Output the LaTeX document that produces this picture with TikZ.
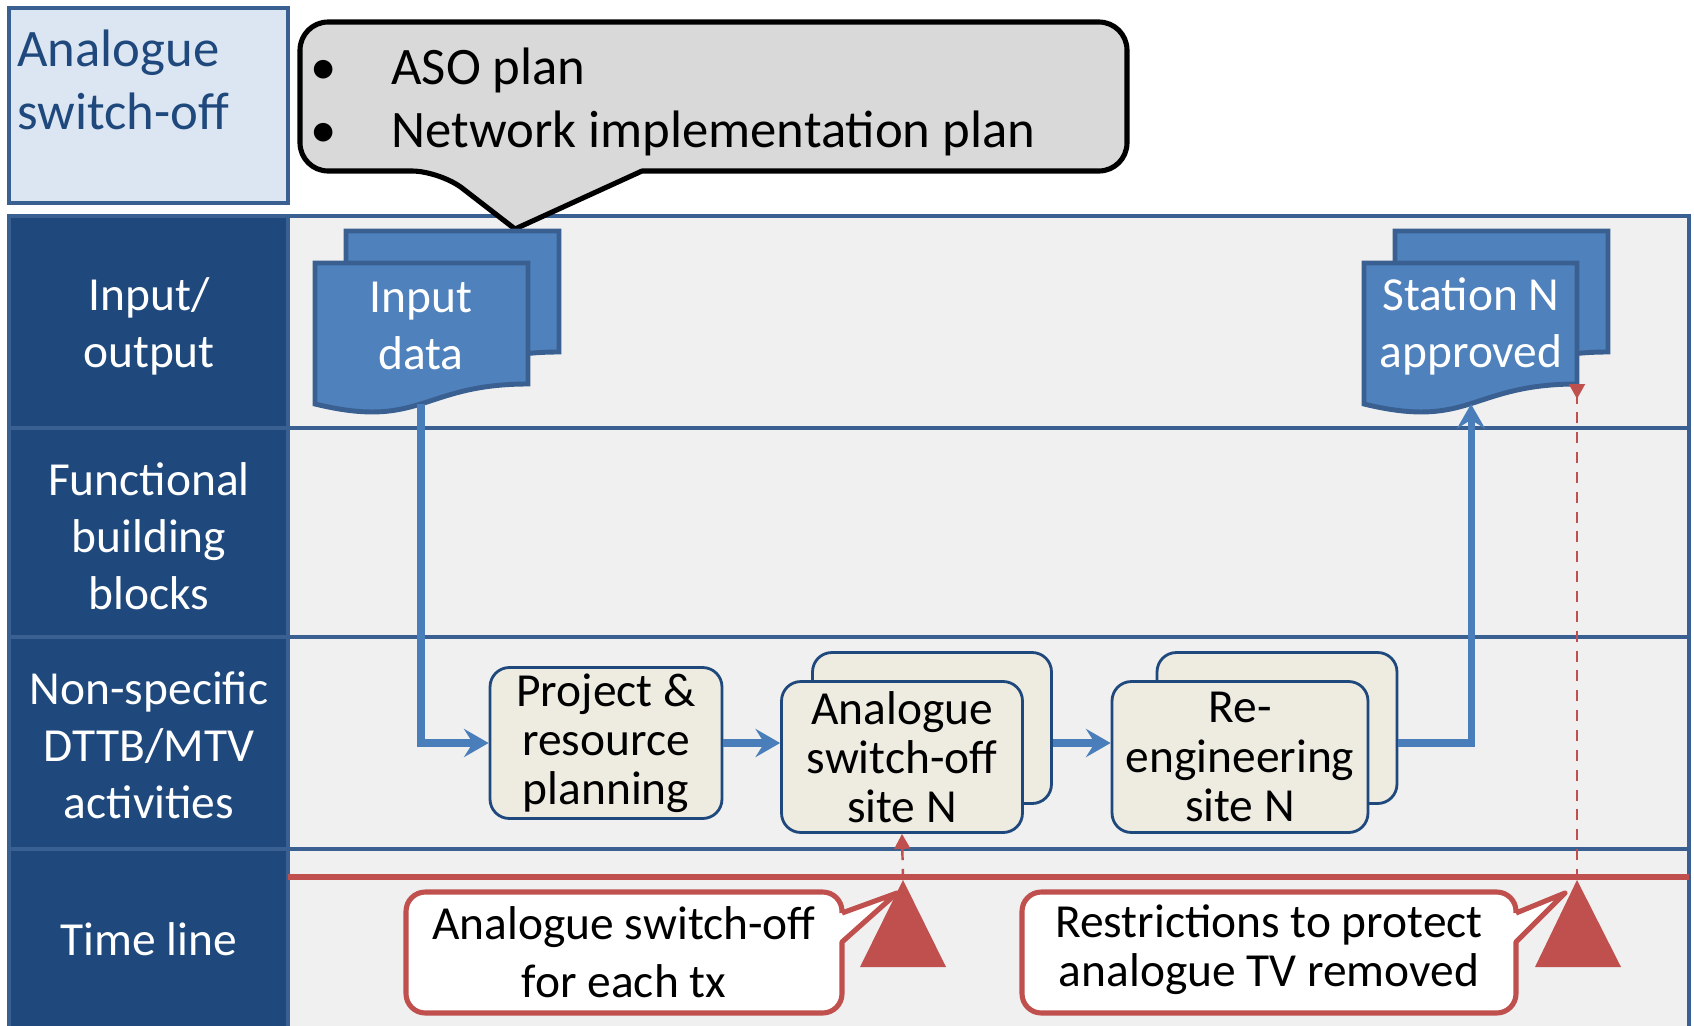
\documentclass[tikz,border=0pt]{standalone}
\usepackage{fontspec}
\setmainfont{Carlito}
\usetikzlibrary{arrows.meta}

\definecolor{hdrblue}{HTML}{1F497D}
\definecolor{edgeblue}{HTML}{3A6091}
\definecolor{docblue}{HTML}{4F81BD}
\definecolor{flowblue}{HTML}{4A7EBB}
\definecolor{paleblue}{HTML}{DCE6F2}
\definecolor{panelgray}{HTML}{F0F0F0}
\definecolor{boxcream}{HTML}{EEECE1}
\definecolor{tlred}{HTML}{C0504D}
\definecolor{notegray}{HTML}{D9D9D9}

\tikzset{
  titlebox/.style={draw=edgeblue,fill=paleblue,line width=2.4pt},
  titletext/.style={text=hdrblue,align=left,inner xsep=0pt,font=\fontsize{30}{36}\selectfont},
  panel/.style={draw=edgeblue,fill=panelgray,line width=2.6pt},
  rowline/.style={draw=edgeblue,line width=2.8pt},
  hdrcell/.style={draw=edgeblue,fill=hdrblue,line width=2.8pt},
  hdrtext/.style={text=white,align=center,font=\fontsize{27}{32.4}\selectfont},
  note/.style={draw=black,fill=notegray,line width=2.9pt,line join=round},
  notetext/.style={font=\fontsize{30}{36}\selectfont,inner sep=0pt},
  docline/.style={draw=edgeblue,fill=docblue,line width=2.8pt},
  doctext/.style={text=white,align=center,font=\fontsize{27}{32.4}\selectfont},
  docpic/.pic={\path[docline] (0,0) -- (213,0) -- (213,121)
      .. controls (106.5,121) and (106.5,167) .. (0,141) -- cycle;},
  taskbox/.style={draw=hdrblue,fill=boxcream,line width=1.6pt,rounded corners=11pt,
      minimum height=3.02cm,inner sep=0pt,align=center,font=\fontsize{27}{28}\selectfont},
  flow/.style={draw=flowblue,line width=4pt,-{Stealth[length=14pt,width=16pt,inset=5pt]}},
  tline/.style={draw=tlred,line width=3.4pt},
  cue/.style={draw=tlred,line width=1.4pt,dash pattern=on 6.3pt off 5pt},
  marker/.style={fill=tlred},
  remark/.style={draw=tlred,fill=white,line width=2.9pt,line join=round},
  remarktext/.style={align=center},
}

\begin{document}
\begin{tikzpicture}[x=0.02cm,y=-0.02cm]
\path[use as bounding box] (0,0) rectangle (1694,1025);
\clip (0,0) rectangle (1694,1025);

% title
\draw[titlebox] (9,8) rectangle (288,203);
\node[titletext,anchor=west] (title) at (17,80) {Analogue\\switch-off};

% swim lanes
\draw[panel] (9,216) rectangle (1689,1060);
\foreach \y in {428,637,849} \draw[rowline] (288,\y) -- (1689,\y);
\foreach \ya/\yb in {216/428,428/637,637/849,849/1060}
  \draw[hdrcell] (9,\ya) rectangle (288,\yb);
\node[hdrtext] (hio) at (149,326) {Input/\\output};
\node[hdrtext] (hfbb) at (149,536) {Functional\\building\\blocks};
\node[hdrtext] (hact) at (149,745) {Non-specific\\DTTB/MTV\\activities};
\node[hdrtext] (htime) at (149,939) {Time line};

% callout with the plans
\draw[note] (440,171) -- (515,229) -- (642,171) [rounded corners=16pt]
  -- (1127,171) -- (1127,22) -- (300,22) -- (300,171) -- cycle;
\node[notetext,anchor=base] (dot1) at (324,84) {•};
\node[notetext,anchor=base] (dot2) at (324,147) {•};
\node[notetext,anchor=base west] (plan1) at (391,84) {ASO plan};
\node[notetext,anchor=base west] (plan2) at (391,147) {Network implementation plan};

% documents
\pic at (346,231) {docpic};
\pic at (315,263) {docpic};
\node[doctext] (indoc) at (421,326) {Input\\data};
\pic at (1395,231) {docpic};
\pic at (1364,263) {docpic};
\node[doctext] (outdoc) at (1471,326) {Station N\\approved};
\coordinate (indocbot) at (421,404);
\coordinate (outdocbot) at (1471,404);
\coordinate (outdoccorner) at (1577,384);

% activities
\node[taskbox,minimum width=4.64cm] (plan) at (606,743) {Project \&\\resource\\planning};
\node[taskbox,minimum width=4.78cm] (asoback) at (932,728) {};
\node[taskbox,minimum width=4.82cm] (aso) at (902,757) {Analogue\\switch-off\\site N};
\node[taskbox,minimum width=4.8cm] (reengback) at (1277,728) {};
\node[taskbox,minimum width=5.12cm] (reeng) at (1240,757) {Re-\\engineering\\site N};

\draw[flow] (indocbot) |- (plan.west);
\draw[flow] (plan.east) -- (plan.east -| aso.west);
\draw[flow] (plan.east -| asoback.east) -- (plan.east -| reeng.west);
\draw[flow] (plan.east -| reengback.east) -| (outdocbot);

% time line
\coordinate (tlstart) at (288,877);
\coordinate (tlend) at (1689,877);
\draw[tline] (tlstart) -- (tlend);
\coordinate (mark1) at (903,880);
\coordinate (mark2) at (1577,880);
\fill[marker] (mark1) -- (860,967) -- (946,967) -- cycle;
\fill[marker] (mark2) -- (1535,967) -- (1621,967) -- cycle;
\draw[cue,-{Triangle[length=8.5pt,width=9pt]}] (mark1) -- (aso.south);
\draw[cue,-{Triangle[reversed,length=8.5pt,width=9pt]}] (mark2) -- (outdoccorner);

% remarks
\draw[remark] (842,913) -- (897,893) -- (842,942) [rounded corners=11pt]
  -- (842,1013) -- (406,1013) -- (406,892) -- (842,892) -- (842,913);
\node[remarktext,font=\fontsize{27}{33}\selectfont] (rem1) at (624,952) {Analogue switch-off\\for each tx};
\draw[remark] (1516,913) -- (1565,893) -- (1516,942) [rounded corners=11pt]
  -- (1516,1013) -- (1022,1013) -- (1022,892) -- (1516,892) -- (1516,913);
\node[remarktext,font=\fontsize{27}{28}\selectfont] (rem2) at (1269,950) {Restrictions to protect\\analogue TV removed};
\end{tikzpicture}
\end{document}
